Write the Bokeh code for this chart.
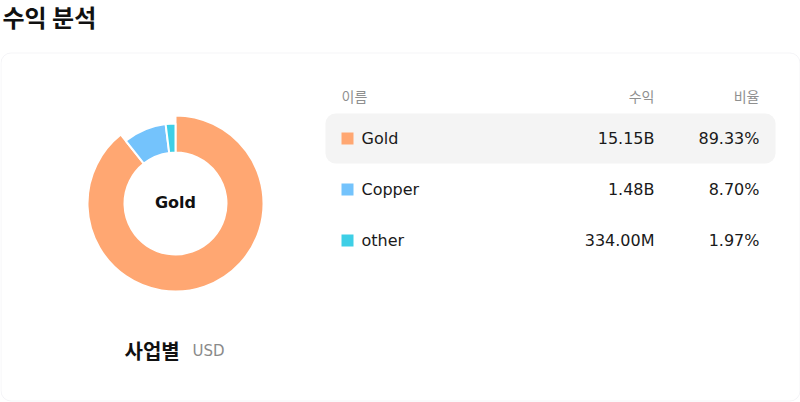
import math
from bokeh.plotting import figure
from bokeh.models import Range1d, BoxAnnotation, ColumnDataSource
from bokeh.core.properties import value
from bokeh.embed import file_html
from bokeh.resources import INLINE

# ---- data ----
title_text = "수익 분석"
categories = ["Gold", "Copper", "other"]
revenue = [15.15e9, 1.48e9, 334.00e6]
revenue_labels = ["15.15B", "1.48B", "334.00M"]
shares = [89.33, 8.70, 1.97]
share_labels = ["89.33%", "8.70%", "1.97%"]
colors = ["#FFA772", "#74C3FC", "#3ECFE6"]
headers = ["이름", "수익", "비율"]
selected = "Gold"
chart_label = "사업별"
currency = "USD"

KR = "Noto Sans CJK KR"
LAT = "DejaVu Sans"

W, H = 800, 402
p = figure(width=W, height=H, output_backend="svg", toolbar_location=None,
           x_range=Range1d(0, W), y_range=Range1d(H, 0),
           min_border=0, min_border_left=0, min_border_right=0,
           min_border_top=0, min_border_bottom=0)
p.axis.visible = False
p.grid.visible = False
p.outline_line_color = None
p.background_fill_color = "white"
p.border_fill_color = "white"

# card
p.add_layout(BoxAnnotation(left=0.5, right=799.5, top=52.5, bottom=400.5,
                           fill_color="white", fill_alpha=1,
                           line_color="#dcdce6", line_width=1,
                           border_radius=10, level="underlay"))
# highlighted row
p.add_layout(BoxAnnotation(left=325, right=775, top=113, bottom=163,
                           fill_color="#f4f4f4", fill_alpha=1,
                           line_color=None, border_radius=10, level="underlay"))

# title
p.text(x=[2], y=[16], text=[title_text], text_font=value(KR),
       text_font_size="24px", text_font_style="bold", text_color="#111111",
       text_baseline="middle", text_align="left")

# donut
total = sum(shares)
starts, ends, outers = [], [], []
a = math.pi / 2
for c, s in zip(categories, shares):
    e = a - 2 * math.pi * s / total
    starts.append(a)
    ends.append(e)
    outers.append(88 if c == selected else 80)
    a = e
src = ColumnDataSource(dict(start=starts, end=ends, outer=outers, color=colors))
p.annular_wedge(x=175, y=203, inner_radius=51, outer_radius="outer",
                start_angle="start", end_angle="end", direction="clock",
                fill_color="color", line_color="white", line_width=2, source=src)

p.text(x=[175], y=[202], text=[selected], text_font=value(LAT),
       text_font_size="16px", text_font_style="bold", text_color="#111111",
       text_baseline="middle", text_align="center")

# chart label
p.text(x=[124], y=[350], text=[chart_label], text_font=value(KR),
       text_font_size="20px", text_font_style="bold", text_color="#111111",
       text_baseline="middle", text_align="left")
p.text(x=[192], y=[350], text=[currency], text_font=value(LAT),
       text_font_size="15px", text_color="#8a8a8a",
       text_baseline="middle", text_align="left")

# table headers
p.text(x=[341], y=[95], text=[headers[0]], text_font=value(KR),
       text_font_size="14px", text_color="#8f8f8f", text_baseline="middle", text_align="left")
p.text(x=[654, 759], y=[95, 95], text=headers[1:], text_font=value(KR),
       text_font_size="14px", text_color="#8f8f8f", text_baseline="middle", text_align="right")

# table rows
row_y = [138 + 51 * i for i in range(len(categories))]
rows = ColumnDataSource(dict(y=row_y, name=categories, rev=revenue_labels,
                             pct=share_labels, color=colors))
p.rect(x=347, y="y", width=12, height=12, fill_color="color", line_color=None, source=rows)
p.text(x=361, y="y", text="name", text_font=value(LAT), text_font_size="16px",
       text_color="#1a1a1a", text_baseline="middle", text_align="left", source=rows)
p.text(x=654, y="y", text="rev", text_font=value(LAT), text_font_size="16px",
       text_color="#1a1a1a", text_baseline="middle", text_align="right", source=rows)
p.text(x=759, y="y", text="pct", text_font=value(LAT), text_font_size="16px",
       text_color="#1a1a1a", text_baseline="middle", text_align="right", source=rows)

open("out.html", "w").write(file_html(p, INLINE))
